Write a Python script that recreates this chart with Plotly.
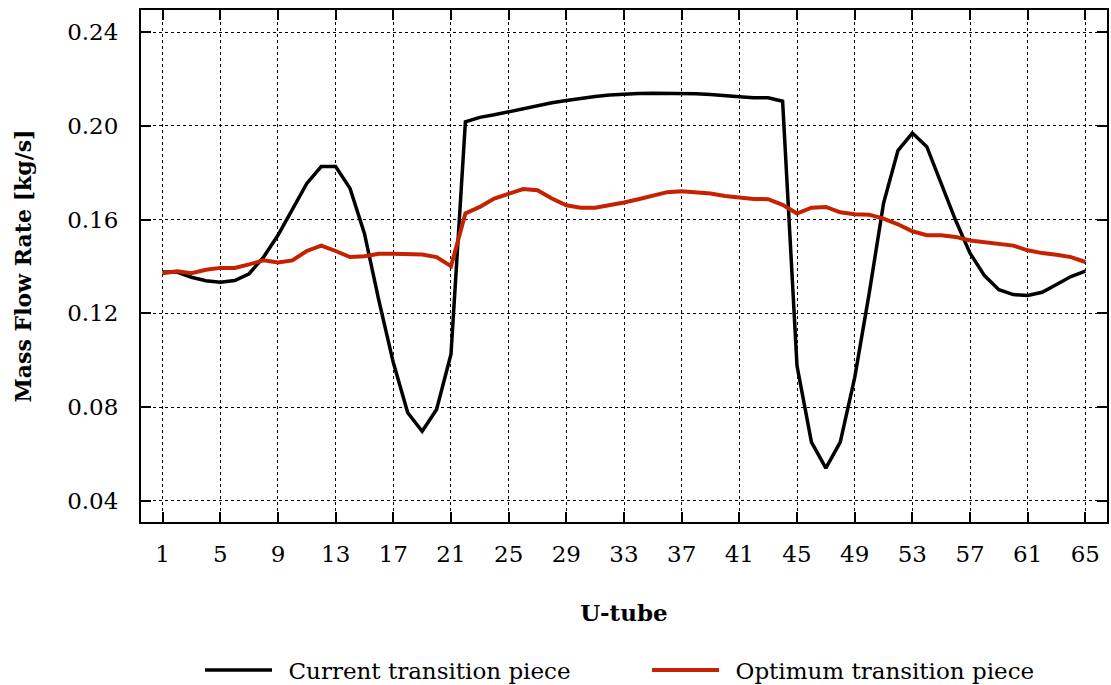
import plotly.graph_objects as go

# U-tube index along the bundle
tubes = list(range(1, 66))

# Mass flow rate per U-tube [kg/s]
current_tp = [
    0.1376, 0.1376, 0.1354, 0.1339, 0.1333, 0.1340, 0.1369, 0.1440, 0.1533, 0.1640,
    0.1754, 0.1826, 0.1826, 0.1733, 0.1540, 0.1254, 0.0990, 0.0776, 0.0697, 0.0790,
    0.1026, 0.2017, 0.2036, 0.2047, 0.2060, 0.2074, 0.2085, 0.2098, 0.2108, 0.2117,
    0.2125, 0.2131, 0.2135, 0.2138, 0.2139, 0.2139, 0.2138, 0.2137, 0.2134, 0.2128,
    0.2124, 0.2120, 0.2120, 0.2105, 0.0976, 0.0651, 0.0540, 0.0651, 0.0926, 0.1283,
    0.1669, 0.1894, 0.1969, 0.1911, 0.1754, 0.1597, 0.1457, 0.1361, 0.1301, 0.1280,
    0.1276, 0.1290, 0.1323, 0.1357, 0.1380,
]
optimum_tp = [
    0.1371, 0.1380, 0.1371, 0.1386, 0.1394, 0.1394, 0.1409, 0.1426, 0.1417, 0.1426,
    0.1466, 0.1489, 0.1466, 0.1440, 0.1444, 0.1454, 0.1454, 0.1454, 0.1451, 0.1440,
    0.1401, 0.1626, 0.1654, 0.1690, 0.1711, 0.1730, 0.1725, 0.1690, 0.1661, 0.1651,
    0.1651, 0.1660, 0.1673, 0.1687, 0.1704, 0.1717, 0.1721, 0.1718, 0.1711, 0.1701,
    0.1694, 0.1688, 0.1687, 0.1663, 0.1626, 0.1651, 0.1654, 0.1631, 0.1623, 0.1621,
    0.1604, 0.1580, 0.1550, 0.1533, 0.1533, 0.1526, 0.1511, 0.1504, 0.1500, 0.1489,
    0.1469, 0.1457, 0.1450, 0.1440, 0.1419,
]

x_ticks = list(range(1, 66, 4))
y_ticks = [0.04, 0.08, 0.12, 0.16, 0.20, 0.24]

FONT = "DejaVu Serif"
GAP = "\u2002"  # extra space between legend line and label

fig = go.Figure()
fig.add_trace(go.Scatter(
    x=tubes, y=current_tp, mode="lines", name=GAP + "Current transition piece",
    line=dict(color="#000000", width=3.5),
))
fig.add_trace(go.Scatter(
    x=tubes, y=optimum_tp, mode="lines", name=GAP + "Optimum transition piece",
    line=dict(color="#c42200", width=4),
))

axis_common = dict(
    showline=True, linecolor="#000000", linewidth=2, mirror="ticks",
    ticks="inside", tickcolor="#000000", tickwidth=1.5,
    showgrid=True, gridcolor="#000000", griddash="dot", gridwidth=1,
    zeroline=False,
    tickfont=dict(family=FONT, size=23, color="#000000"),
)

fig.update_xaxes(
    range=[-0.5, 66.5], tickvals=x_ticks, ticklen=10,
    ticklabelstandoff=10,
    title=dict(text="<b>U-tube</b>", font=dict(family=FONT, size=23, color="#000000"),
               standoff=39),
    **axis_common,
)
fig.update_yaxes(
    range=[0.031, 0.2494], tickvals=y_ticks, tickformat=".2f", ticklen=10,
    ticklabelstandoff=16,
    title=dict(text="<b>Mass Flow Rate [kg/s]</b>", font=dict(family=FONT, size=22, color="#000000"),
               standoff=29),
    **axis_common,
)

fig.update_layout(
    width=1111, height=685,
    margin=dict(l=141, r=4, t=10, b=163, autoexpand=False),
    paper_bgcolor="#ffffff", plot_bgcolor="#ffffff",
    font=dict(family=FONT, size=23, color="#000000"),
    legend=dict(
        orientation="h", x=0.0611, xanchor="left", y=-0.289, yanchor="middle",
        font=dict(family=FONT, size=23, color="#000000"),
        itemwidth=67, entrywidth=365, bgcolor="rgba(0,0,0,0)",
    ),
)

fig.write_html("out.html")
